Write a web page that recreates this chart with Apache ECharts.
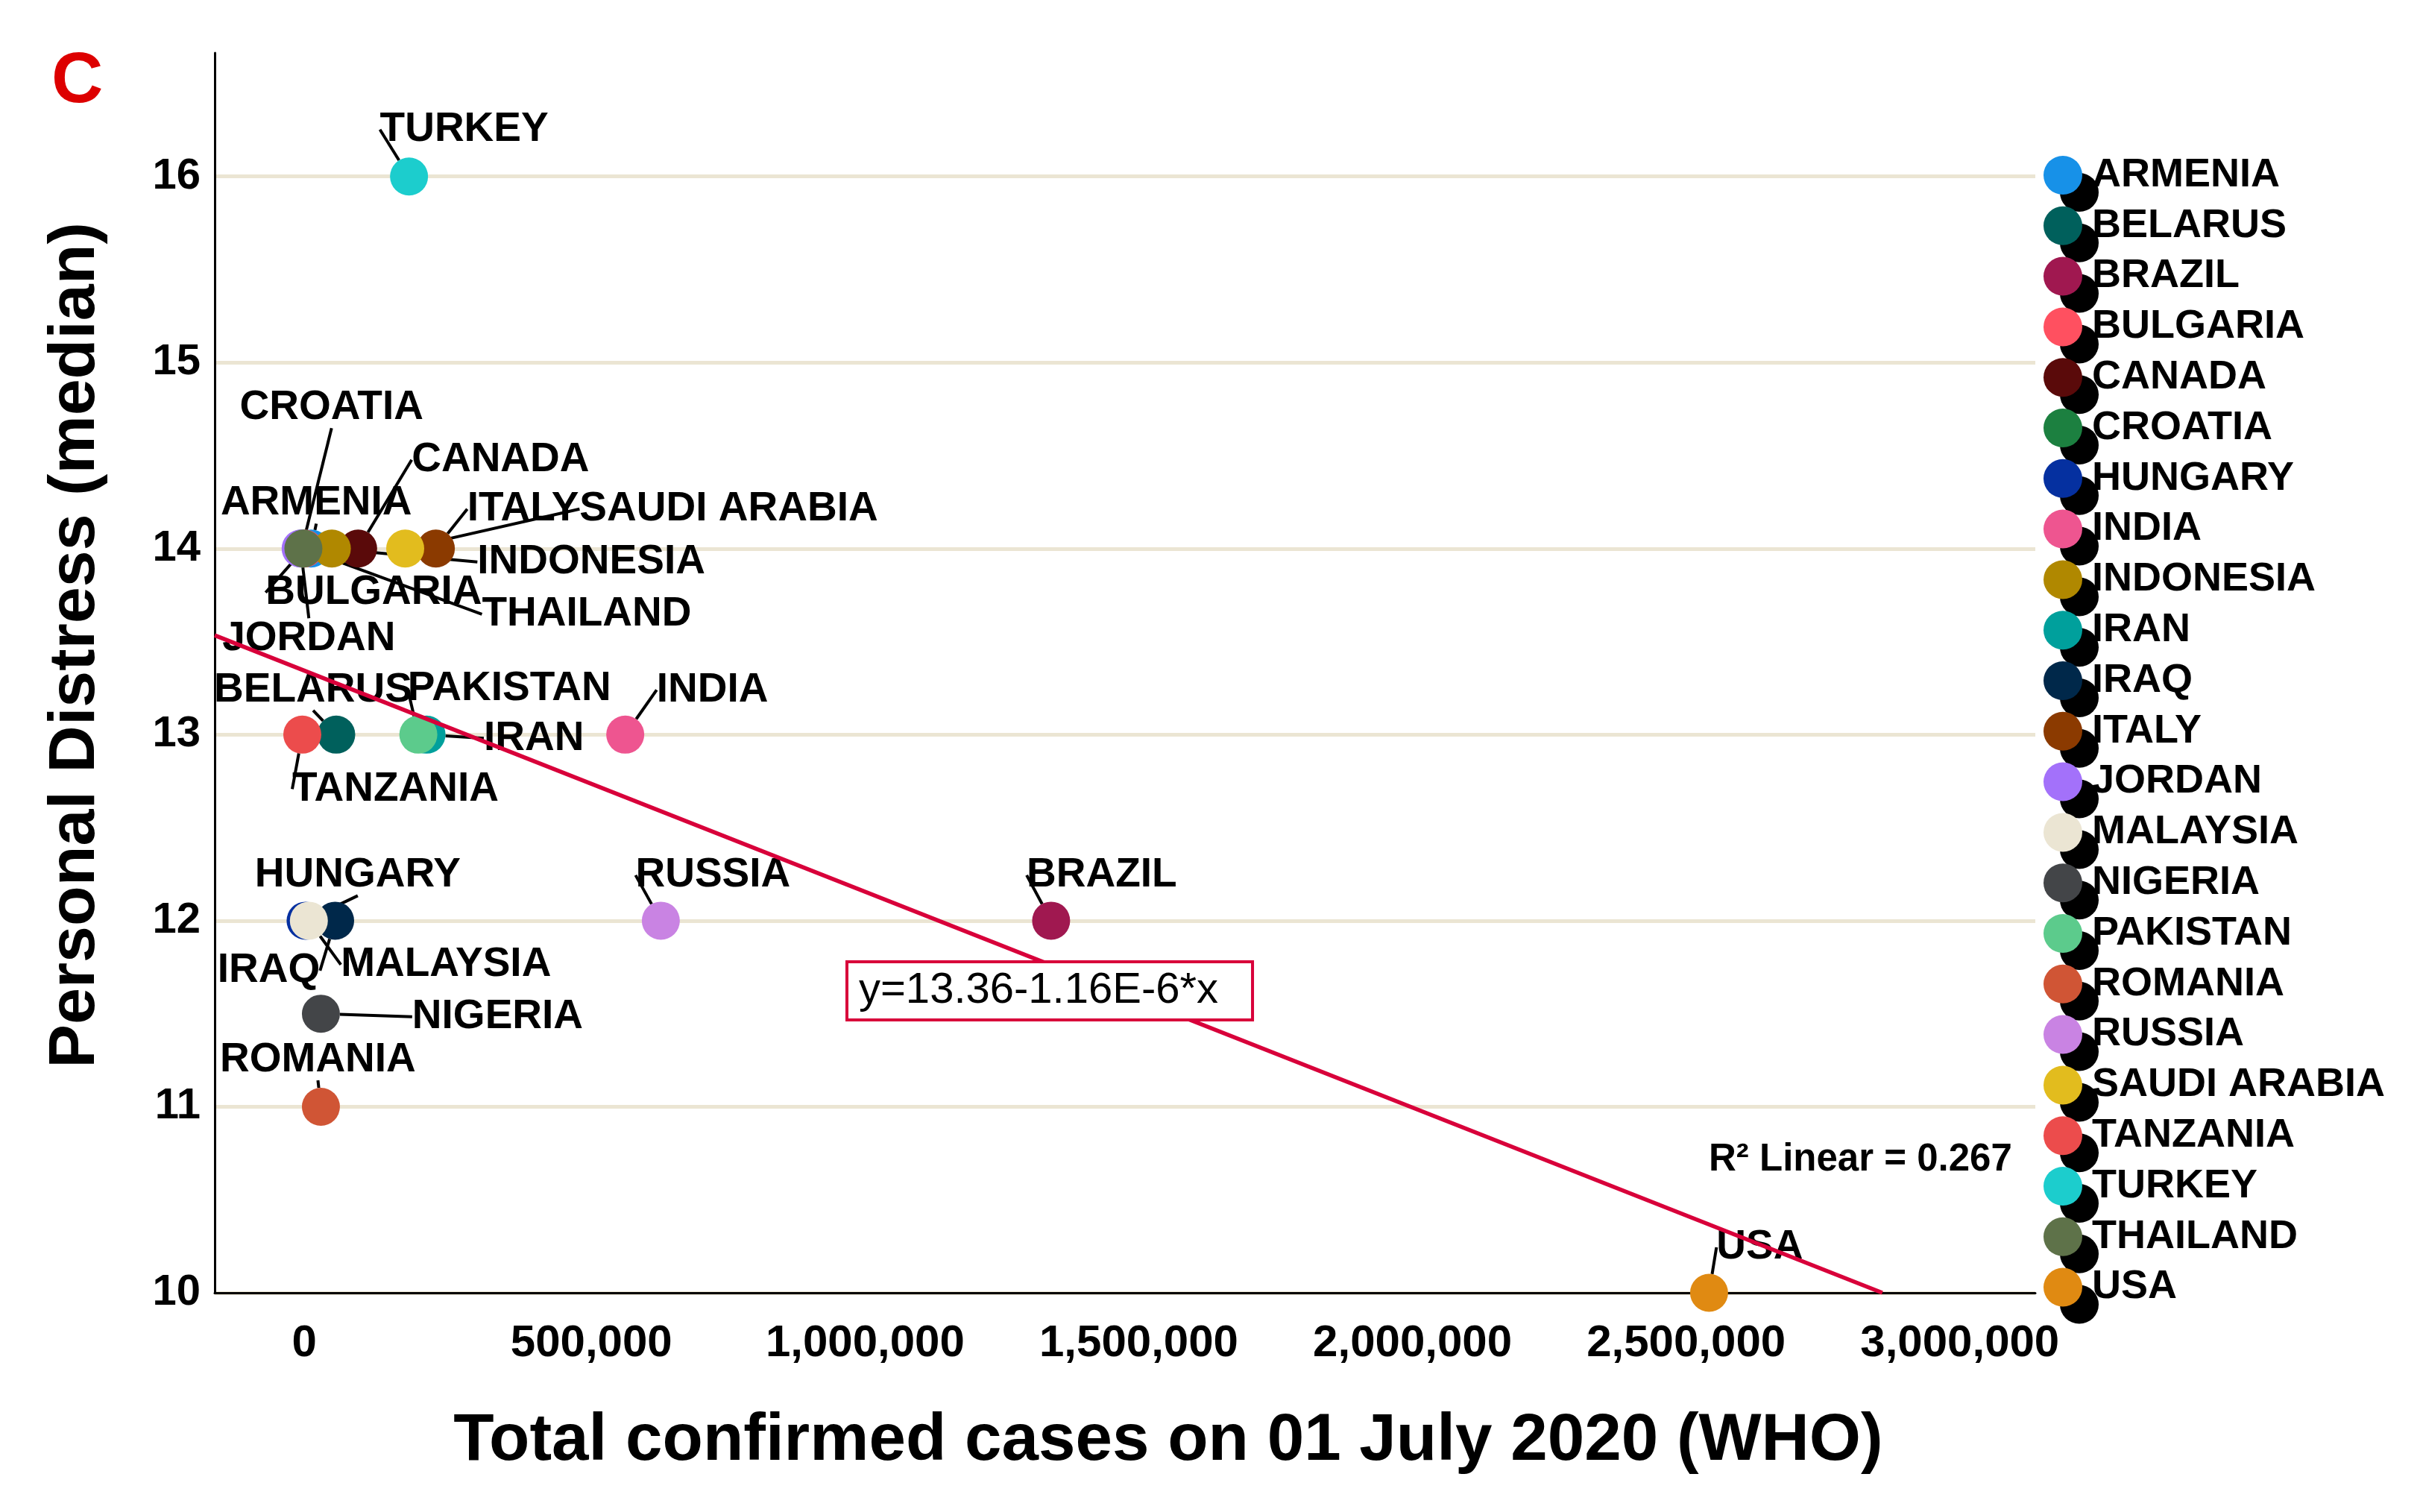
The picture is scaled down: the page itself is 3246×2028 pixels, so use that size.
<!DOCTYPE html>
<html><head><meta charset="utf-8">
<script src="https://cdn.jsdelivr.net/npm/echarts@6/dist/echarts.min.js"></script>
<style>html,body{margin:0;padding:0;background:#fff}#c{width:3246px;height:2028px}</style>
</head><body><div id="c"></div>
<script>
// ---- data ----
const countries = ['ARMENIA','BELARUS','BRAZIL','BULGARIA','CANADA','CROATIA','HUNGARY','INDIA','INDONESIA','IRAN','IRAQ','ITALY','JORDAN','MALAYSIA','NIGERIA','PAKISTAN','ROMANIA','RUSSIA','SAUDI ARABIA','TANZANIA','TURKEY','THAILAND','USA'];
const cases = [26000, 72000, 1378000, 14000, 112000, 9000, 16000, 600000, 64000, 237000, 70000, 254000, 7000, 22000, 44000, 222000, 44000, 665000, 198000, 10000, 205000, 12000, 2580000];
const distress = [14, 13, 12, 14, 14, 14, 12, 13, 14, 13, 12, 14, 14, 12, 11.5, 13, 11, 12, 14, 13, 16, 14, 10];
const xTickValues = [0, 500000, 1000000, 1500000, 2000000, 2500000, 3000000];
const yTickValues = [10, 11, 12, 13, 14, 15, 16];
const regIntercept = 13.36;
const regSlopeE6 = -1.16;   // slope in units of 1E-6
const rSquared = 0.267;

// ---- styles / layout ----
const colors = ['#1791e8','#00605c','#a01850','#ff5060','#5a0a0a','#1c8040','#0530a0','#ee5590','#b08800','#00a09c','#00284a','#8b3a00','#a371fa','#ebe5d3','#434548','#5ccb8c','#d05535','#c983e3','#e2bc1e','#ec4c4c','#1ccdcd','#5e7249','#e08a12'];
const labelOffsets = {
  'ARMENIA':[7,-61],'BELARUS':[-31,-60],'BRAZIL':[68,-61],'BULGARIA':[93,59],'CANADA':[191,-119],
  'CROATIA':[40,-189],'HUNGARY':[70,-61],'INDIA':[117,-60],'INDONESIA':[348,18],'IRAN':[144,5],
  'IRAQ':[-89,67],'ITALY':[117,-53],'JORDAN':[11,121],'MALAYSIA':[184,59],'NIGERIA':[237,4],
  'PAKISTAN':[122,-62],'ROMANIA':[-4,-63],'RUSSIA':[70,-61],'SAUDI ARABIA':[434,-53],
  'TANZANIA':[125,73],'TURKEY':[74,-63],'THAILAND':[380,88],'USA':[68,-61]
};
const FF = '"Liberation Sans", Arial, Helvetica, sans-serif';
const X_MIN = -150000, X_MAX = 3176000, Y_MIN = 10, Y_MAX = 16.664;

function commas(v){ return String(v).replace(/\B(?=(\d{3})+(?!\d))/g, ','); }

const scatterSeries = countries.map((name, i) => ({
  type: 'scatter',
  name: name,
  z: 2,
  data: [[cases[i], distress[i]]],
  symbol: 'circle',
  symbolSize: 51,
  itemStyle: { color: colors[i], opacity: 1 },
  label: { show: true, position: 'inside', formatter: name, color: '#000', fontSize: 55, fontWeight: 'bold', fontFamily: FF },
  labelLayout: { dx: labelOffsets[name][0], dy: labelOffsets[name][1], hideOverlap: false },
  labelLine: { show: true, lineStyle: { color: '#000', width: 4 } },
  emphasis: { disabled: true },
  silent: true
}));

// regression line from the printed equation, clipped to the plot
const slope = regSlopeE6 * 1e-6;
const xStart = X_MIN, yStart = regIntercept + slope * xStart;
const xEnd = (Y_MIN - regIntercept) / slope;
const fitSeries = {
  type: 'line', name: 'fit', z: 10, silent: true,
  data: [[xStart, yStart], [xEnd, Y_MIN]],
  symbol: 'none',
  lineStyle: { color: '#d8003a', width: 5.5 },
  emphasis: { disabled: true }
};

const chart = echarts.init(document.getElementById('c'), null, { renderer: 'canvas' });
chart.setOption({
  animation: false,
  backgroundColor: '#fff',
  textStyle: { fontFamily: FF },
  title: { text: 'C', left: 64, top: 58, textStyle: { color: '#dd0000', fontSize: 96, fontWeight: 'bold', fontFamily: FF } },
  grid: { left: 288, right: 516, top: 71, bottom: 294, containLabel: false, outerBoundsMode: 'none' },
  legend: {
    data: countries,
    orient: 'vertical', left: 2736, top: 203,
    itemWidth: 52, itemHeight: 52, itemGap: 13.8,
    icon: 'circle', selectedMode: false,
    itemStyle: { shadowColor: '#000', shadowOffsetX: 22, shadowOffsetY: 23, shadowBlur: 0 },
    textStyle: { fontSize: 54, fontWeight: 'bold', color: '#000', fontFamily: FF, lineHeight: 52, padding: [0, 0, 0, 8] }
  },
  xAxis: {
    type: 'value', min: X_MIN, max: X_MAX,
    axisLine: { show: true, onZero: false, lineStyle: { color: '#000', width: 3 } },
    axisTick: { show: false },
    splitLine: { show: false },
    axisLabel: {
      customValues: xTickValues, margin: 38, color: '#000',
      formatter: v => v === 0 ? '{z|0}' : '{n|' + commas(v) + '}',
      rich: {
        z: { fontSize: 60, fontWeight: 'bold', fontFamily: FF, color: '#000', padding: [0, 0, 0, 20] },
        n: { fontSize: 60, fontWeight: 'bold', fontFamily: FF, color: '#000', padding: [0, 0, 0, 56] }
      }
    },
    name: 'Total confirmed cases on 01 July 2020 (WHO)',
    nameLocation: 'middle', nameGap: 155,
    nameTextStyle: { fontSize: 89, fontWeight: 'bold', color: '#000', fontFamily: FF, padding: [0, 0, 0, 116] }
  },
  yAxis: {
    type: 'value', min: Y_MIN, max: Y_MAX,
    axisLine: { show: true, onZero: false, lineStyle: { color: '#000', width: 3 } },
    axisTick: { show: false, customValues: yTickValues },
    axisLabel: { customValues: yTickValues, margin: 19, color: '#000', fontSize: 58, fontWeight: 'bold', fontFamily: FF },
    splitLine: { show: true, lineStyle: { color: '#ebe5d3', width: 5 } },
    name: 'Personal Distress (median)',
    nameLocation: 'middle', nameGap: 142,
    nameTextStyle: { fontSize: 88, fontWeight: 'bold', color: '#000', fontFamily: FF, padding: [0, 0, 0, 74] }
  },
  graphic: [
    {
      type: 'text', left: 1134, top: 1288, z: 100,
      style: {
        text: 'y=' + regIntercept.toFixed(2) + '-' + Math.abs(regSlopeE6).toFixed(2) + 'E-6*x',
        font: '58px ' + FF, fill: '#000', lineHeight: 60,
        backgroundColor: '#fff', borderColor: '#d8003a', borderWidth: 4,
        padding: [7, 44, 7, 14]
      }
    },
    {
      type: 'text', x: 2292, y: 1556, z: 100,
      style: { text: 'R\u00B2 Linear = ' + rSquared.toFixed(3), font: 'bold 51px ' + FF, fill: '#000', verticalAlign: 'middle' }
    }
  ],
  series: scatterSeries.concat([fitSeries])
});
</script>
</body></html>
